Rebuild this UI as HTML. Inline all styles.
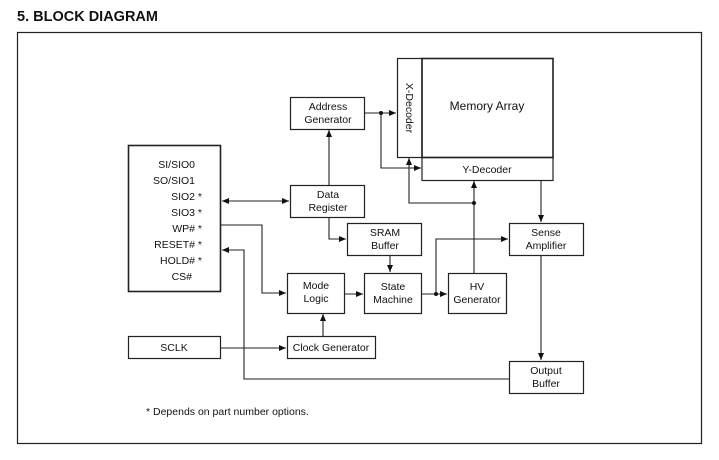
<!DOCTYPE html>
<html><head><meta charset="utf-8"><style>
html,body{margin:0;padding:0;background:#fff;}
svg{display:block;}
text{font-family:"Liberation Sans",Arial,sans-serif;font-size:10.5px;fill:#111;}
</style></head><body>
<svg width="719" height="460" viewBox="0 0 719 460" xmlns="http://www.w3.org/2000/svg">
<defs>
<marker id="a" markerWidth="8" markerHeight="8" refX="7" refY="4" orient="auto" markerUnits="userSpaceOnUse">
<path d="M0,1 L7,4 L0,7 z" fill="#111"/></marker>
<marker id="s" markerWidth="8" markerHeight="8" refX="1" refY="4" orient="auto" markerUnits="userSpaceOnUse">
<path d="M8,1 L1,4 L8,7 z" fill="#111"/></marker>
</defs>
<text x="17" y="21" style="font-size:14.5px;font-weight:bold">5. BLOCK DIAGRAM</text>
<rect x="17.5" y="32.5" width="684" height="411" fill="none" stroke="#222" stroke-width="1.2"/>
<g fill="none" stroke="#222" stroke-width="1.2">
<rect x="397.5" y="58.5" width="24.5" height="99"/>
<rect x="422" y="58.5" width="131" height="99" stroke-width="1.6"/>
<rect x="422" y="157.5" width="131" height="23"/>
<rect x="290.5" y="97.5" width="74" height="32"/>
<rect x="290.5" y="185.5" width="74" height="32"/>
<rect x="128.5" y="145.5" width="92" height="146" stroke-width="1.6"/>
<rect x="347.5" y="223.5" width="74" height="32"/>
<rect x="287.5" y="273.5" width="57" height="40"/>
<rect x="364.5" y="273.5" width="57" height="40"/>
<rect x="448.5" y="273.5" width="58" height="40"/>
<rect x="509.5" y="223.5" width="74" height="32"/>
<rect x="509.5" y="361.5" width="74" height="32"/>
<rect x="128.5" y="336.5" width="92" height="22"/>
<rect x="287.5" y="336.5" width="88" height="22"/>
</g>
<g fill="none" stroke="#222" stroke-width="1.1">
<path d="M365 113 H396" marker-end="url(#a)"/>
<path d="M381 113 V168 H421" marker-end="url(#a)"/>
<path d="M329 185 V130" marker-end="url(#a)"/>
<path d="M222 201 H289" marker-start="url(#s)" marker-end="url(#a)"/>
<path d="M329 218 V239 H346" marker-end="url(#a)"/>
<path d="M390 256 V272" marker-end="url(#a)"/>
<path d="M221 225 H262 V293 H286" marker-end="url(#a)"/>
<path d="M345 294 H363" marker-end="url(#a)"/>
<path d="M422 294 H447" marker-end="url(#a)"/>
<path d="M436 294 V239 H508" marker-end="url(#a)"/>
<path d="M474 273 V181" marker-end="url(#a)"/>
<path d="M474 203 H409 V158" marker-end="url(#a)"/>
<path d="M541 181 V222" marker-end="url(#a)"/>
<path d="M541 256 V360" marker-end="url(#a)"/>
<path d="M509 379 H244 V250 H222" marker-end="url(#a)"/>
<path d="M221 348 H286" marker-end="url(#a)"/>
<path d="M323 336 V314" marker-end="url(#a)"/>
</g>
<circle cx="381" cy="113" r="2" fill="#111"/>
<circle cx="436" cy="294" r="2" fill="#111"/>
<circle cx="474" cy="203" r="2" fill="#111"/>
<text x="487" y="110" text-anchor="middle" style="font-size:12px">Memory Array</text>
<text transform="translate(406,108) rotate(90)" text-anchor="middle">X-Decoder</text>
<text x="487" y="173" text-anchor="middle">Y-Decoder</text>
<text x="328" y="110" text-anchor="middle">Address</text>
<text x="328" y="123" text-anchor="middle">Generator</text>
<text x="328" y="198" text-anchor="middle">Data</text>
<text x="328" y="211" text-anchor="middle">Register</text>
<text x="385" y="236" text-anchor="middle">SRAM</text>
<text x="385" y="249" text-anchor="middle">Buffer</text>
<text x="316" y="289" text-anchor="middle">Mode</text>
<text x="316" y="302" text-anchor="middle">Logic</text>
<text x="393" y="290" text-anchor="middle">State</text>
<text x="393" y="303" text-anchor="middle">Machine</text>
<text x="477" y="290" text-anchor="middle">HV</text>
<text x="477" y="303" text-anchor="middle">Generator</text>
<text x="546" y="236" text-anchor="middle">Sense</text>
<text x="546" y="249" text-anchor="middle">Amplifier</text>
<text x="546" y="374" text-anchor="middle">Output</text>
<text x="546" y="387" text-anchor="middle">Buffer</text>
<text x="174" y="351" text-anchor="middle">SCLK</text>
<text x="331" y="351" text-anchor="middle">Clock Generator</text>
<g text-anchor="end">
<text x="195" y="168">SI/SIO0</text>
<text x="195" y="184">SO/SIO1</text>
<text x="202" y="200">SIO2 *</text>
<text x="202" y="216">SIO3 *</text>
<text x="202" y="232">WP# *</text>
<text x="202" y="248">RESET# *</text>
<text x="202" y="264">HOLD# *</text>
<text x="192" y="280">CS#</text>
</g>
<text x="146" y="415">* Depends on part number options.</text>
</svg>
</body></html>
